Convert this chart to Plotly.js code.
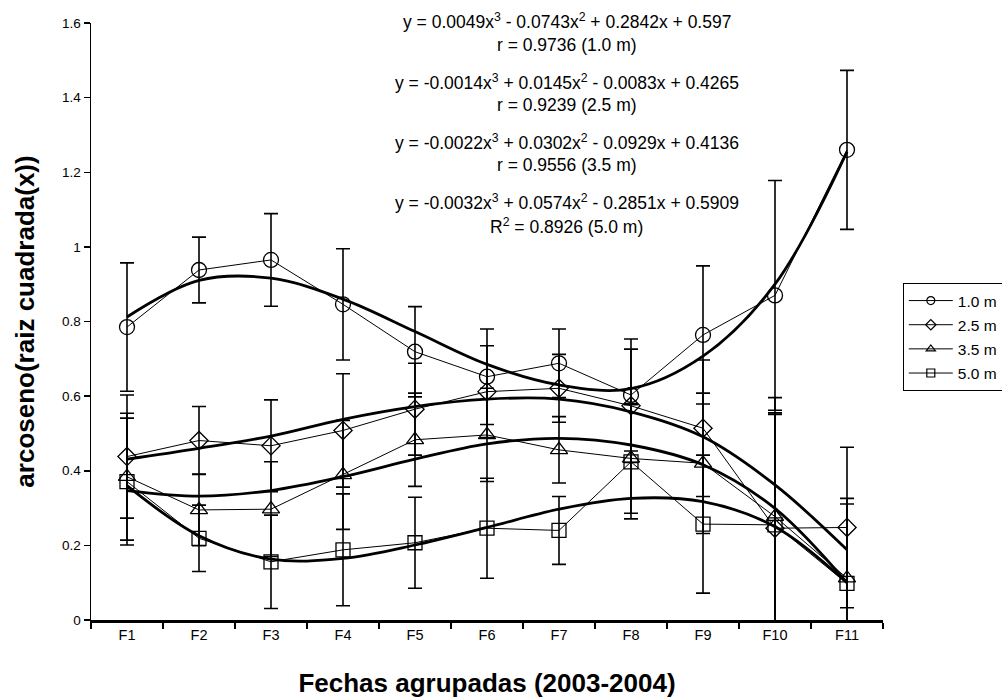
<!DOCTYPE html>
<html>
<head>
<meta charset="utf-8">
<script src="https://cdn.plot.ly/plotly-3.0.1.min.js"></script>
<style>html,body{margin:0;padding:0;background:#fff;}#chart{width:1002px;height:700px;}</style>
</head>
<body>
<div id="chart"></div>
<script>
// ---- data ----
const categories = ["F1","F2","F3","F4","F5","F6","F7","F8","F9","F10","F11"];

const series_1_0 = [0.785, 0.938, 0.965, 0.846, 0.719, 0.652, 0.688, 0.603, 0.764, 0.870, 1.260];
const err_1_0    = [0.172, 0.088, 0.124, 0.149, 0.121, 0.128, 0.092, 0.150, 0.185, 0.308, 0.213];
const trend_1_0  = [0.812, 0.910, 0.916, 0.860, 0.773, 0.685, 0.630, 0.620, 0.707, 0.900, 1.255];

const series_2_5 = [0.438, 0.481, 0.467, 0.508, 0.565, 0.612, 0.621, 0.574, 0.514, 0.246, 0.248];
const err_2_5    = [0.165, 0.091, 0.123, 0.152, 0.123, 0.123, 0.091, 0.152, 0.183, 0.305, 0.215];
const trend_2_5  = [0.431, 0.460, 0.493, 0.538, 0.572, 0.592, 0.592, 0.558, 0.491, 0.362, 0.188];

const series_3_5 = [0.384, 0.295, 0.297, 0.389, 0.483, 0.496, 0.456, 0.433, 0.420, 0.277, 0.112];
const err_3_5    = [0.170, 0.096, 0.127, 0.146, 0.125, 0.125, 0.089, 0.147, 0.188, 0.319, 0.214];
const trend_3_5  = [0.347, 0.332, 0.347, 0.384, 0.431, 0.472, 0.487, 0.469, 0.416, 0.299, 0.100];

const series_5_0 = [0.371, 0.219, 0.156, 0.188, 0.207, 0.246, 0.240, 0.424, 0.257, 0.255, 0.098];
const err_5_0    = [0.170, 0.089, 0.125, 0.150, 0.122, 0.134, 0.091, 0.153, 0.185, 0.300, 0.213];
const trend_5_0  = [0.360, 0.226, 0.163, 0.165, 0.201, 0.248, 0.297, 0.326, 0.317, 0.250, 0.100];

const seriesNames = ["1.0 m", "2.5 m", "3.5 m", "5.0 m"];
const equationLines = [
  "y = 0.0049x<sup>3</sup> - 0.0743x<sup>2</sup> + 0.2842x + 0.597",
  "r = 0.9736 (1.0 m)",
  "y = -0.0014x<sup>3</sup> + 0.0145x<sup>2</sup> - 0.0083x + 0.4265",
  "r = 0.9239 (2.5 m)",
  "y = -0.0022x<sup>3</sup> + 0.0302x<sup>2</sup> - 0.0929x + 0.4136",
  "r = 0.9556 (3.5 m)",
  "y = -0.0032x<sup>3</sup> + 0.0574x<sup>2</sup> - 0.2851x + 0.5909",
  "R<sup>2</sup> = 0.8926 (5.0 m)"
];
const yTickVals = [0, 0.2, 0.4, 0.6, 0.8, 1, 1.2, 1.4, 1.6];
const yTickText = ["0", "0.2", "0.4", "0.6", "0.8", "1", "1.2", "1.4", "1.6"];

// ---- build traces ----
const FONT = "Arial, 'Liberation Sans', sans-serif";
const values = [series_1_0, series_2_5, series_3_5, series_5_0];
const errors = [err_1_0, err_2_5, err_3_5, err_5_0];
const trends = [trend_1_0, trend_2_5, trend_3_5, trend_5_0];
const symbols = ["circle-open", "diamond-open", "triangle-up-open", "square-open"];
const sizes = [15, 14, 15, 14];

const traces = [];
for (let i = 0; i < 4; i++) {
  traces.push({
    x: categories, y: trends[i], type: "scatter", mode: "lines",
    line: {color: "#000", width: 2.8, shape: "spline", smoothing: 1.0},
    showlegend: false, hoverinfo: "skip"
  });
}
for (let i = 0; i < 4; i++) {
  traces.push({
    x: categories, y: values[i], type: "scatter", mode: "lines+markers",
    name: seriesNames[i], showlegend: false,
    line: {color: "#000", width: 1},
    marker: {symbol: symbols[i], size: sizes[i], color: "#000", line: {color: "#000", width: 1.3}},
    error_y: {type: "data", array: errors[i], visible: true, color: "#000", thickness: 1.6, width: 7}
  });
}
// legend entries (small symbols like the reference legend)
for (let i = 0; i < 4; i++) {
  traces.push({
    x: [null], y: [null], type: "scatter", mode: "lines+markers",
    name: seriesNames[i], legendgroup: "g" + i, showlegend: true,
    line: {color: "#000", width: 1},
    marker: {symbol: symbols[i], size: 8, color: "#000", line: {color: "#000", width: 1.2}}
  });
}

// ---- annotations: equations ----
const eqY = [1.0034, 0.963, 0.901, 0.863, 0.801, 0.762, 0.700, 0.660];
const annotations = equationLines.map((t, k) => ({
  text: t, xref: "paper", yref: "paper", x: 0.601, y: eqY[k],
  xanchor: "center", yanchor: "middle", showarrow: false,
  font: {family: FONT, size: 17.5, color: "#000"}
}));

const layout = {
  width: 1002, height: 700,
  margin: {l: 91, r: 119, t: 23, b: 80, autoexpand: false},
  paper_bgcolor: "#fff", plot_bgcolor: "#fff",
  font: {family: FONT, size: 13, color: "#000"},
  showlegend: true,
  legend: {
    x: 1.025, y: 0.5645, xanchor: "left", yanchor: "top",
    bgcolor: "#fff", bordercolor: "#000", borderwidth: 1,
    font: {family: FONT, size: 15.5, color: "#000"},
    traceorder: "grouped", tracegroupgap: 1, itemwidth: 44
  },
  xaxis: {
    type: "category", range: [-0.5, 10.5],
    tickson: "boundaries", ticks: "outside", ticklen: 6, tickwidth: 2, tickcolor: "#000",
    showline: true, linecolor: "#000", linewidth: 2.5,
    showgrid: false, zeroline: false,
    tickfont: {family: FONT, size: 14.5, color: "#000"},
    title: {text: "<b>Fechas agrupadas (2003-2004)</b>", font: {family: FONT, size: 26, color: "#000"}, standoff: 32}
  },
  yaxis: {
    range: [0, 1.6], tickvals: yTickVals, ticktext: yTickText,
    ticks: "outside", ticklen: 6, tickwidth: 1.5, tickcolor: "#000",
    showline: true, linecolor: "#000", linewidth: 1.5,
    showgrid: false, zeroline: false,
    tickfont: {family: FONT, size: 13.5, color: "#000"},
    title: {text: "<b>arcoseno(raiz cuadrada(x))</b>", font: {family: FONT, size: 26, color: "#000"}, standoff: 20}
  },
  annotations: annotations
};

Plotly.newPlot("chart", traces, layout, {displayModeBar: false, staticPlot: true});
</script>
</body>
</html>
